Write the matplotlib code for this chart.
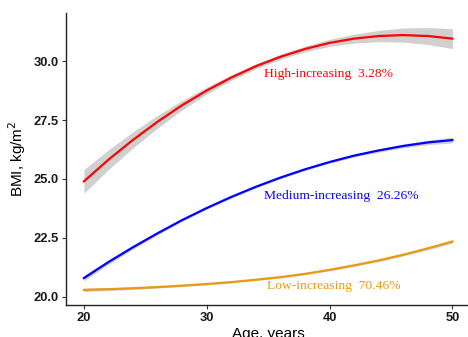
import numpy as np
import matplotlib
matplotlib.use("Agg")
import matplotlib.pyplot as plt

# Fitted BMI trajectories
age = [20, 22, 24, 26, 28, 30, 32, 34, 36, 38, 40, 42, 44, 46, 48, 50]
high = [24.90, 25.82, 26.66, 27.43, 28.13, 28.75, 29.30, 29.78,
        30.18, 30.51, 30.77, 30.95, 31.06, 31.10, 31.06, 30.95]
medium = [20.80, 21.48, 22.11, 22.70, 23.26, 23.77, 24.24, 24.67,
          25.06, 25.41, 25.72, 25.99, 26.21, 26.40, 26.55, 26.65]
low = [20.30, 20.33, 20.37, 20.42, 20.48, 20.55, 20.63, 20.73,
       20.84, 20.98, 21.15, 21.34, 21.55, 21.79, 22.06, 22.35]

# half-width of the confidence bands
high_ci = [0.50, 0.42, 0.34, 0.27, 0.20, 0.15, 0.12, 0.11,
           0.11, 0.12, 0.15, 0.19, 0.24, 0.30, 0.36, 0.42]
medium_ci = [0.12, 0.10, 0.08, 0.07, 0.06, 0.05, 0.05, 0.05,
             0.05, 0.05, 0.06, 0.06, 0.07, 0.08, 0.10, 0.12]
low_ci = [0.07, 0.06, 0.05, 0.04, 0.04, 0.04, 0.03, 0.03,
          0.03, 0.04, 0.04, 0.04, 0.05, 0.05, 0.06, 0.07]

groups = ["High-increasing  3.28%", "Medium-increasing  26.26%", "Low-increasing  70.46%"]
colors = ["#FF0000", "#0000FF", "#E99A10"]
label_pos = [(34.7, 29.45), (34.7, 24.28), (34.9, 20.47)]

fig = plt.figure(figsize=(4.68, 3.37), dpi=100)
ax = fig.add_axes([0.140, 0.095, 0.866, 0.866])

x = np.array(age)
for ys, ci, c in zip([high, medium, low], [high_ci, medium_ci, low_ci], colors):
    ys = np.array(ys)
    ci = np.array(ci)
    ax.fill_between(x, ys - ci, ys + ci, color="#c8c8c8", alpha=0.85, lw=0)
    ax.plot(x, ys, color=c, lw=1.6)

for txt, c, (px, py) in zip(groups, colors, label_pos):
    ax.text(px, py, txt, color=c, fontsize=9.7, family="Liberation Serif",
            ha="left", va="center")

ax.set_xlim(18.5, 51.5)
ax.set_ylim(19.66, 32.03)
ax.set_xticks([20, 30, 40, 50])
ax.set_yticks([20.0, 22.5, 25.0, 27.5, 30.0])
ax.set_yticklabels(["20.0", "22.5", "25.0", "27.5", "30.0"])

for lab in ax.get_xticklabels() + ax.get_yticklabels():
    lab.set_fontweight("bold")
    lab.set_family("Liberation Sans")
    lab.set_fontsize(9.3)
    lab.set_color("#1a1a1a")

ax.tick_params(length=3, width=0.8, color="#333333", pad=2)
ax.spines["top"].set_visible(False)
ax.spines["right"].set_visible(False)
for s in ["left", "bottom"]:
    ax.spines[s].set_linewidth(1.0)
    ax.spines[s].set_color("#222222")

ax.set_ylabel("BMI, kg/m$^2$", fontsize=11, family="Liberation Sans", labelpad=4)
ax.set_xlabel("Age, years", fontsize=11, family="Liberation Sans", labelpad=2)

fig.savefig("out.png", dpi=100)
